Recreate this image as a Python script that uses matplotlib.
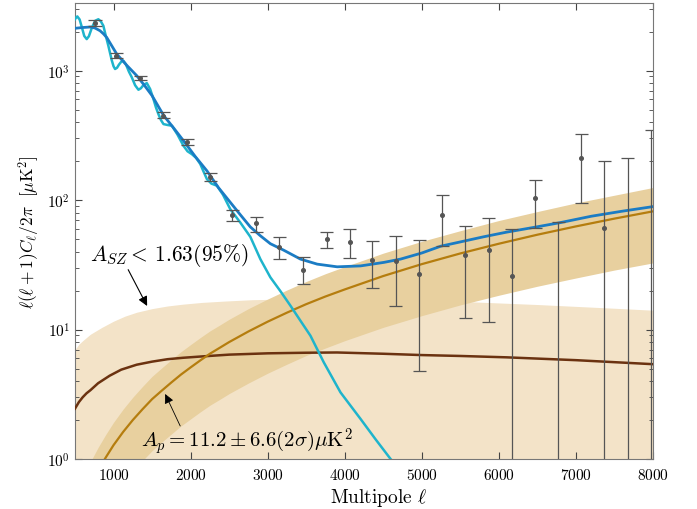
import matplotlib
matplotlib.use('Agg')
import matplotlib.pyplot as plt
import numpy as np

plt.rcParams['font.family'] = 'serif'
plt.rcParams['font.serif'] = ['cmr10', 'DejaVu Serif']
plt.rcParams['mathtext.fontset'] = 'cm'
plt.rcParams['axes.formatter.use_mathtext'] = True

#Band power data points (multipole, value, upper and lower error bar ends)
ell_pts = [760, 1033, 1345, 1644, 1956, 2255, 2541, 2853, 3152, 3464, 3764, 4062,
           4358, 4662, 4966, 5267, 5562, 5870, 6168, 6473, 6772, 7067, 7370, 7674, 7975]
d_pts = [2328, 1294, 875, 448, 280, 151, 76.6, 66.4, 43.4, 28.8, 50, 47.4,
         34.7, 33.6, 26.8, 77, 37.6, 41.3, 26, 103, np.nan, 210, 60.4, np.nan, np.nan]
d_hi = [2440, 1358, 902, 476, 297, 162, 83.7, 73.9, 51.7, 36.3, 57, 59.7,
        48.5, 52.5, 49.1, 109, 63.3, 72.2, 59.7, 143, 67.6, 323, 199, 212, 347]
d_lo = [2218, 1241, 849, 428, 264, 140, 68.9, 56.6, 35, 22.3, 42.4, 35.7,
        20.8, 15.3, 4.8, 44.4, 12.2, 11.4, 0.5, 61, 0.5, 94.8, 0.5, 0.5, 0.5]

#Primary CMB spectrum
ell_cmb = [500, 515, 530, 560, 590, 620, 652, 680, 720, 760, 803, 835, 868, 900, 933,
           977, 1000, 1020, 1045, 1070, 1100, 1128, 1160, 1200, 1237, 1280, 1323, 1355,
           1390, 1432, 1475, 1518, 1550, 1583, 1615, 1648, 1700, 1757, 1830, 1908, 1960,
           2017, 2070, 2125, 2170, 2212, 2270, 2342, 2420, 2515, 2645, 2775, 2905, 3035,
           3165, 3295, 3425, 3555, 3728, 3945, 4205, 4400, 4595, 4700]
d_cmb = [2490, 2570, 2620, 2480, 2150, 1850, 1750, 1840, 2150, 2420, 2490, 2400, 2218,
         1850, 1552, 1200, 1080, 1028, 1050, 1110, 1170, 1191, 1120, 980, 887, 770, 711,
         730, 775, 800, 720, 602, 520, 460, 415, 386, 380, 375, 320, 262, 238,
         226, 212, 190, 165, 145, 134, 129, 110, 85, 67, 52, 35, 25.3,
         19.8, 15.3, 11.7, 8.96, 5.58, 3.27, 2.04, 1.42, 1.0, 0.85]

#Total model
ell_tot = [500, 600, 700, 760, 825, 870, 912, 975, 1042, 1170, 1302, 1400, 1500, 1650,
           1780, 1908, 2060, 2212, 2360, 2515, 2645, 2775, 2905, 3035, 3208, 3425, 3642,
           3902, 4205, 4508, 4725, 5000, 5245, 5500, 5800, 6100, 6454, 6800, 7200, 7600, 8000]
d_tot = [2120, 2150, 2170, 2130, 2030, 1920, 1800, 1560, 1340, 1100, 912, 770, 640, 450,
         360, 287, 217, 168, 125, 96, 77, 62, 53, 46, 41, 35, 32,
         30.5, 31, 33, 35, 39, 44, 47.5, 52, 56.5, 61.5, 67, 75, 82, 89]

#SZ template and its 95% upper limit
ell_sz = [500, 550, 600, 650, 700, 800, 950, 1100, 1300, 1500, 1700, 1900, 2150, 2500,
          3000, 3500, 3900, 4500, 5000, 5500, 6100, 7000, 8000]
d_sz = [2.45, 2.75, 3.0, 3.22, 3.4, 3.85, 4.4, 4.9, 5.35, 5.65, 5.9, 6.05, 6.2, 6.4,
        6.55, 6.62, 6.65, 6.5, 6.35, 6.25, 6.1, 5.8, 5.4]
ell_szlim = [500, 550, 600, 700, 850, 1000, 1150, 1300, 1500, 1700, 1900, 2150, 2450,
             2800, 3500, 4500, 5500, 6500, 7500, 8000]
d_szlim = [7.0, 7.7, 8.2, 9.2, 10.4, 11.6, 12.7, 13.6, 14.5, 15.2, 15.7, 16.2, 16.6,
           17.0, 17.3, 17.2, 16.5, 15.6, 14.6, 14.1]

#Poisson point sources with 2 sigma band
ell_ps = [700, 800, 900, 1000, 1125, 1250, 1375, 1500, 1625, 1750, 1875, 2000, 2125, 2250,
          2375, 2500, 2750, 3000, 3250, 3500, 3750, 4000, 4500, 5000, 5500, 6000, 6500,
          7000, 7500, 8000]
d_ps = [0.63, 0.82, 1.03, 1.28, 1.62, 2.0, 2.42, 2.9, 3.37, 3.9, 4.49, 5.1, 5.77, 6.5,
        7.21, 8.0, 9.66, 11.5, 13.5, 15.7, 18.0, 20.4, 25.9, 32, 38.7, 46, 54,
        62.6, 71.9, 81.8]
d_ps_hi = [0.95, 1.23, 1.55, 1.92, 2.43, 3.0, 3.63, 4.35, 5.05, 5.85, 6.74, 7.65, 8.66,
           9.75, 10.8, 12.0, 14.5, 17.2, 20.2, 23.5, 27.0, 30.6, 38.9, 48, 58, 69.5, 81.5,
           95, 109, 125]
d_ps_lo = [0.25, 0.33, 0.41, 0.51, 0.65, 0.8, 0.97, 1.16, 1.35, 1.56, 1.8, 2.04, 2.31,
           2.6, 2.88, 3.2, 3.86, 4.6, 5.4, 6.3, 7.2, 8.2, 10.4, 12.8, 15.5, 18.4, 21.6,
           25, 28.8, 32.7]

fig = plt.figure(figsize=(6.97, 5.10), dpi=100)
ax = fig.add_axes([0.1076, 0.098, 0.8293, 0.894])

ax.fill_between(ell_szlim, 0.5, d_szlim, color='#f3e3c8', lw=0, zorder=1)
ax.fill_between(ell_ps, d_ps_lo, d_ps_hi, color='#e8d09f', lw=0, zorder=2)

ax.plot(ell_sz, d_sz, color='#6b3210', lw=1.8, zorder=3)
ax.plot(ell_ps, d_ps, color='#b57d0e', lw=1.6, zorder=3)
ax.plot(ell_cmb, d_cmb, color='#1eb4cc', lw=1.8, zorder=4)
ax.plot(ell_tot, d_tot, color='#1b7cc4', lw=2.0, zorder=5)

#Error bars drawn from the read ends
ell_a = np.array(ell_pts)
d_a = np.array(d_pts)
hi_a = np.array(d_hi)
lo_a = np.array(d_lo)
ax.vlines(ell_a, lo_a, hi_a, color='#555555', lw=0.9, zorder=6)
cw = 85
ax.hlines(hi_a, ell_a - cw, ell_a + cw, color='#555555', lw=0.9, zorder=6)
cap_lo = lo_a > 1
ax.hlines(lo_a[cap_lo], ell_a[cap_lo] - cw, ell_a[cap_lo] + cw, color='#555555', lw=0.9, zorder=6)
ax.plot(ell_a, d_a, 'o', color='#555555', ms=2.6, zorder=7)

ax.set_yscale('log')
ax.set_xlim(500, 8000)
ax.set_ylim(1, 3320)
ax.set_xticks([1000, 2000, 3000, 4000, 5000, 6000, 7000, 8000])
ax.tick_params(which='both', direction='in', top=True, right=True, colors='#444444',
               labelcolor='black', labelsize=11)
ax.tick_params(which='major', length=5)
ax.tick_params(which='minor', length=3)
ax.tick_params(axis='x', which='minor', bottom=False, top=False)
ax.tick_params(axis='x', pad=6)
for s in ax.spines.values():
    s.set_color('#777777')

ax.set_xlabel(r'Multipole $\ell$', fontsize=14)
ax.xaxis.set_label_coords(0.526, -0.06)
ax.set_ylabel(r'$\ell(\ell+1)C_\ell/2\pi\ \ [\mu\mathrm{K}^2]$', fontsize=12.5)

ax.text(700, 34.5, r'$A_{SZ}{<}\,1.63(95\%)$', fontsize=15.5, zorder=8)
ax.annotate('', xy=(1436, 15.2), xytext=(1190, 29),
            arrowprops=dict(arrowstyle='-|>', color='black', lw=0.8, mutation_scale=14,
                            shrinkA=0, shrinkB=0), zorder=8)
ax.text(1360, 1.25, r'$A_p = 11.2 \pm 6.6(2\sigma)\mu\mathrm{K}^2$', fontsize=15, zorder=8)
ax.annotate('', xy=(1670, 3.18), xytext=(1865, 1.8),
            arrowprops=dict(arrowstyle='-|>', color='black', lw=0.6, mutation_scale=14,
                            shrinkA=0, shrinkB=0), zorder=8)

fig.savefig('out.png', dpi=100)
